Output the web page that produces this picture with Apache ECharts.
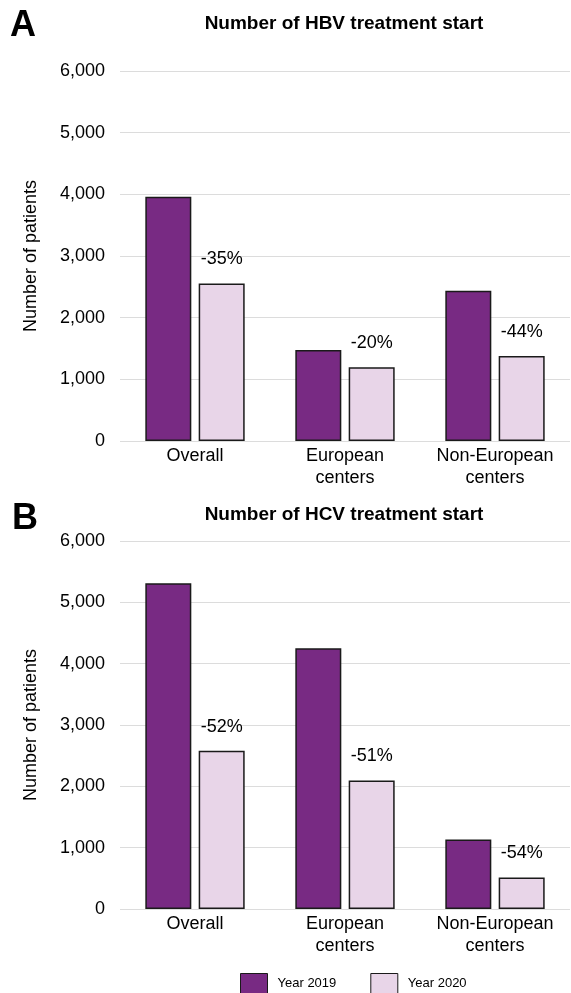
<!DOCTYPE html>
<html>
<head>
<meta charset="utf-8">
<script src="https://cdn.jsdelivr.net/npm/echarts@6/dist/echarts.min.js"></script>
<style>
html,body{margin:0;padding:0;background:#fff;}
#chart{width:571px;height:993px;}
</style>
</head>
<body>
<div id="chart"></div>
<script>
var categories = ['Overall', 'European\ncenters', 'Non-European\ncenters'];
var hbv2019 = [3960, 1475, 2435];
var hbv2020 = [2555, 1195, 1380];
var hbvPct = ['-35%', '-20%', '-44%'];
var hcv2019 = [5310, 4250, 1135];
var hcv2020 = [2580, 2095, 515];
var hcvPct = ['-52%', '-51%', '-54%'];
var seriesNames = ['Year 2019', 'Year 2020'];
var titleA = 'Number of HBV treatment start';
var titleB = 'Number of HCV treatment start';

var FONT = '"Liberation Sans", Arial, Helvetica, sans-serif';
var DARK = '#782A83';
var LIGHT = '#E8D5E8';

function yAxis(idx) {
  return {
    type: 'value', gridIndex: idx, min: 0, max: 6000, interval: 1000,
    name: 'Number of patients', nameLocation: 'middle', nameRotate: 90, nameGap: 80,
    nameTextStyle: {fontSize: 18, color: '#000', fontFamily: FONT},
    axisLine: {show: false}, axisTick: {show: false},
    axisLabel: {fontSize: 18, color: '#000', fontFamily: FONT, margin: 15,
      formatter: function (v) { return v.toLocaleString('en-US'); }},
    splitLine: {lineStyle: {color: '#dcdcdc', width: 1}}
  };
}
function xAxis(idx) {
  return {
    type: 'category', gridIndex: idx, data: categories,
    axisLine: {show: false}, axisTick: {show: false},
    axisLabel: {fontSize: 18, color: '#000', fontFamily: FONT, margin: 4, lineHeight: 22, interval: 0}
  };
}
function bars(name, data, idx, color, pct) {
  var s = {
    name: name, type: 'bar', xAxisIndex: idx, yAxisIndex: idx, data: data,
    barWidth: 46, barGap: '16%',
    itemStyle: {color: color, borderColor: '#1a1a1a', borderWidth: 1.5},
    emphasis: {disabled: true}
  };
  if (pct) {
    s.label = {show: true, position: 'top', distance: 15, fontSize: 18, color: '#000', fontFamily: FONT,
      formatter: function (p) { return pct[p.dataIndex]; }};
  }
  return s;
}

var chart = echarts.init(document.getElementById('chart'), null, {renderer: 'canvas'});
chart.setOption({
  animation: false,
  backgroundColor: '#fff',
  textStyle: {fontFamily: FONT},
  grid: [
    {left: 120, right: 1, top: 71, height: 370},
    {left: 120, right: 1, top: 541, height: 368}
  ],
  xAxis: [xAxis(0), xAxis(1)],
  yAxis: [yAxis(0), yAxis(1)],
  legend: {
    data: seriesNames, left: 240, top: 973, itemWidth: 27, itemHeight: 20, itemGap: 34,
    icon: 'rect', padding: 0,
    itemStyle: {borderColor: '#1a1a1a', borderWidth: 1},
    textStyle: {fontSize: 13, color: '#000', fontFamily: FONT, padding: [0, 0, 0, 5]}
  },
  graphic: [
    {type: 'text', left: 10, top: 8, style: {text: 'A', font: 'bold 36px ' + FONT, fill: '#000'}},
    {type: 'text', left: 12, top: 501, style: {text: 'B', font: 'bold 36px ' + FONT, fill: '#000'}},
    {type: 'text', x: 344, y: 24, style: {text: titleA, font: 'bold 19px ' + FONT, fill: '#000', textAlign: 'center', textVerticalAlign: 'middle'}},
    {type: 'text', x: 344, y: 515, style: {text: titleB, font: 'bold 19px ' + FONT, fill: '#000', textAlign: 'center', textVerticalAlign: 'middle'}}
  ],
  series: [
    bars(seriesNames[0], hbv2019, 0, DARK),
    bars(seriesNames[1], hbv2020, 0, LIGHT, hbvPct),
    bars(seriesNames[0], hcv2019, 1, DARK),
    bars(seriesNames[1], hcv2020, 1, LIGHT, hcvPct)
  ]
});
</script>
</body>
</html>
